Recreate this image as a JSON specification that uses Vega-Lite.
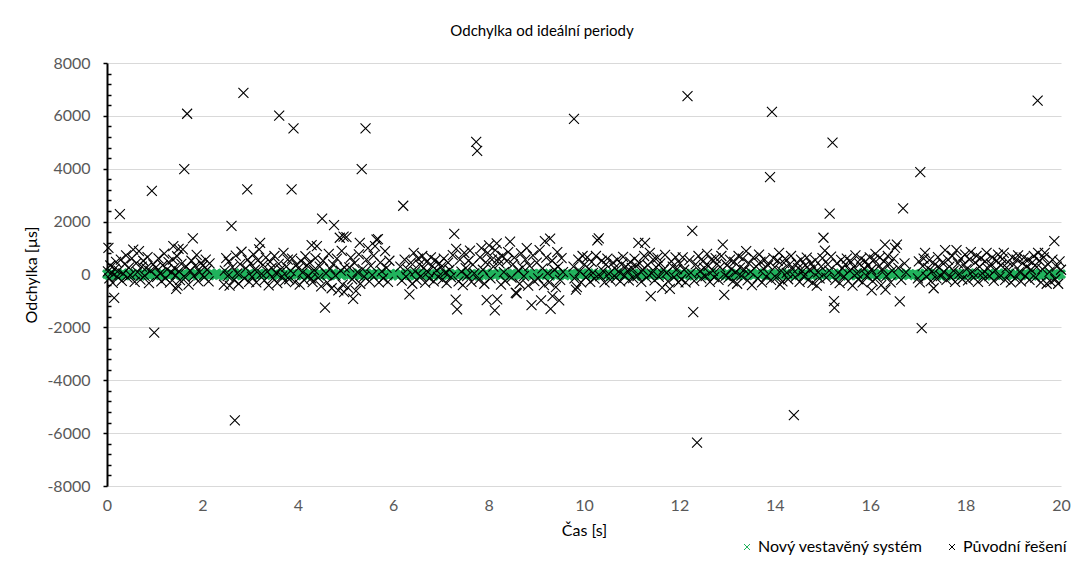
{
"$schema":"https://vega.github.io/schema/vega-lite/v6.json",
"width":954,"height":423,
"autosize":{"type":"none"},
"padding":{"left":107,"top":63,"right":23,"bottom":75},
"background":"white",
"config":{"font":"Lato","view":{"stroke":null}},
"title":{"text":"Odchylka od ideální periody","fontSize":15,"fontWeight":"normal","color":"#000000","anchor":"middle","dx":-42,"offset":16},
"datasets":{
"green":[
{"t":0,"v":12},{"t":0.05,"v":-35},{"t":0.1,"v":48},{"t":0.15,"v":-8},{"t":0.2,"v":27},{"t":0.25,"v":-52},{"t":0.3,"v":5},{"t":0.35,"v":39},{"t":0.4,"v":-21},{"t":0.45,"v":55},{"t":0.5,"v":-44},{"t":0.55,"v":16},{"t":0.6,"v":-3},{"t":0.65,"v":33},{"t":0.7,"v":-50},{"t":0.75,"v":22},{"t":0.8,"v":-14},{"t":0.85,"v":45},{"t":0.9,"v":-29},{"t":0.95,"v":8},
{"t":1,"v":-40},{"t":1.05,"v":30},{"t":1.1,"v":-6},{"t":1.15,"v":52},{"t":1.2,"v":-25},{"t":1.25,"v":14},{"t":1.3,"v":-48},{"t":1.35,"v":36},{"t":1.4,"v":2},{"t":1.45,"v":-18},{"t":1.5,"v":44},{"t":1.55,"v":-33},{"t":1.6,"v":20},{"t":1.65,"v":-55},{"t":1.7,"v":9},{"t":1.75,"v":41},{"t":1.8,"v":-12},{"t":1.85,"v":28},{"t":1.9,"v":-46},{"t":1.95,"v":17},
{"t":2,"v":50},{"t":2.05,"v":-22},{"t":2.1,"v":4},{"t":2.15,"v":-38},{"t":2.2,"v":35},{"t":2.25,"v":-10},{"t":2.3,"v":47},{"t":2.35,"v":-30},{"t":2.4,"v":24},{"t":2.45,"v":-53},{"t":2.5,"v":11},{"t":2.55,"v":38},{"t":2.6,"v":-16},{"t":2.65,"v":26},{"t":2.7,"v":-42},{"t":2.75,"v":6},{"t":2.8,"v":53},{"t":2.85,"v":-27},{"t":2.9,"v":19},{"t":2.95,"v":-7},
{"t":3,"v":43},{"t":3.05,"v":-49},{"t":3.1,"v":15},{"t":3.15,"v":-2},{"t":3.2,"v":37},{"t":3.25,"v":-34},{"t":3.3,"v":29},{"t":3.35,"v":-11},{"t":3.4,"v":51},{"t":3.45,"v":-24},{"t":3.5,"v":3},{"t":3.55,"v":46},{"t":3.6,"v":-39},{"t":3.65,"v":21},{"t":3.7,"v":-15},{"t":3.75,"v":34},{"t":3.8,"v":-51},{"t":3.85,"v":10},{"t":3.9,"v":40},{"t":3.95,"v":-19},
{"t":4,"v":-5},{"t":4.05,"v":31},{"t":4.1,"v":-45},{"t":4.15,"v":25},{"t":4.2,"v":-9},{"t":4.25,"v":54},{"t":4.3,"v":-36},{"t":4.35,"v":13},{"t":4.4,"v":-28},{"t":4.45,"v":48},{"t":4.5,"v":-1},{"t":4.55,"v":22},{"t":4.6,"v":-47},{"t":4.65,"v":37},{"t":4.7,"v":-13},{"t":4.75,"v":7},{"t":4.8,"v":-31},{"t":4.85,"v":42},{"t":4.9,"v":-20},{"t":4.95,"v":18},
{"t":5,"v":28},{"t":5.05,"v":-43},{"t":5.1,"v":1},{"t":5.15,"v":49},{"t":5.2,"v":-17},{"t":5.25,"v":32},{"t":5.3,"v":-54},{"t":5.35,"v":14},{"t":5.4,"v":-26},{"t":5.45,"v":39},{"t":5.5,"v":-8},{"t":5.55,"v":45},{"t":5.6,"v":-37},{"t":5.65,"v":23},{"t":5.7,"v":-4},{"t":5.75,"v":51},{"t":5.8,"v":-30},{"t":5.85,"v":10},{"t":5.9,"v":-41},{"t":5.95,"v":35},
{"t":6,"v":-12},{"t":6.05,"v":20},{"t":6.1,"v":-50},{"t":6.15,"v":44},{"t":6.2,"v":-23},{"t":6.25,"v":6},{"t":6.3,"v":38},{"t":6.35,"v":-35},{"t":6.4,"v":16},{"t":6.45,"v":-46},{"t":6.5,"v":53},{"t":6.55,"v":-2},{"t":6.6,"v":27},{"t":6.65,"v":-19},{"t":6.7,"v":41},{"t":6.75,"v":-33},{"t":6.8,"v":9},{"t":6.85,"v":-52},{"t":6.9,"v":30},{"t":6.95,"v":-15},
{"t":7,"v":47},{"t":7.05,"v":-6},{"t":7.1,"v":24},{"t":7.15,"v":-40},{"t":7.2,"v":12},{"t":7.25,"v":-27},{"t":7.3,"v":36},{"t":7.35,"v":-48},{"t":7.4,"v":19},{"t":7.45,"v":3},{"t":7.5,"v":-22},{"t":7.55,"v":50},{"t":7.6,"v":-11},{"t":7.65,"v":29},{"t":7.7,"v":-44},{"t":7.75,"v":15},{"t":7.8,"v":-55},{"t":7.85,"v":33},{"t":7.9,"v":-9},{"t":7.95,"v":42},
{"t":8,"v":-31},{"t":8.05,"v":8},{"t":8.1,"v":46},{"t":8.15,"v":-18},{"t":8.2,"v":25},{"t":8.25,"v":-38},{"t":8.3,"v":55},{"t":8.35,"v":-4},{"t":8.4,"v":31},{"t":8.45,"v":-49},{"t":8.5,"v":17},{"t":8.55,"v":-13},{"t":8.6,"v":40},{"t":8.65,"v":-26},{"t":8.7,"v":2},{"t":8.75,"v":52},{"t":8.8,"v":-35},{"t":8.85,"v":21},{"t":8.9,"v":-10},{"t":8.95,"v":37},
{"t":9,"v":-47},{"t":9.05,"v":26},{"t":9.1,"v":-3},{"t":9.15,"v":43},{"t":9.2,"v":-29},{"t":9.25,"v":11},{"t":9.3,"v":-51},{"t":9.35,"v":34},{"t":9.4,"v":-16},{"t":9.45,"v":48},{"t":9.5,"v":-20},{"t":9.55,"v":5},{"t":9.6,"v":-42},{"t":9.65,"v":39},{"t":9.7,"v":-7},{"t":9.75,"v":23},{"t":9.8,"v":-53},{"t":9.85,"v":30},{"t":9.9,"v":-1},{"t":9.95,"v":45},
{"t":10,"v":14},{"t":10.05,"v":-37},{"t":10.1,"v":50},{"t":10.15,"v":-24},{"t":10.2,"v":7},{"t":10.25,"v":-45},{"t":10.3,"v":32},{"t":10.35,"v":-12},{"t":10.4,"v":41},{"t":10.45,"v":-32},{"t":10.5,"v":18},{"t":10.55,"v":-56},{"t":10.6,"v":27},{"t":10.65,"v":-6},{"t":10.7,"v":54},{"t":10.75,"v":-21},{"t":10.8,"v":13},{"t":10.85,"v":-39},{"t":10.9,"v":36},{"t":10.95,"v":-17},
{"t":11,"v":4},{"t":11.05,"v":49},{"t":11.1,"v":-28},{"t":11.15,"v":22},{"t":11.2,"v":-50},{"t":11.25,"v":10},{"t":11.3,"v":-14},{"t":11.35,"v":44},{"t":11.4,"v":-34},{"t":11.45,"v":31},{"t":11.5,"v":-8},{"t":11.55,"v":53},{"t":11.6,"v":-25},{"t":11.65,"v":16},{"t":11.7,"v":-43},{"t":11.75,"v":38},{"t":11.8,"v":-2},{"t":11.85,"v":26},{"t":11.9,"v":-48},{"t":11.95,"v":20},
{"t":12,"v":-19},{"t":12.05,"v":47},{"t":12.1,"v":-36},{"t":12.15,"v":9},{"t":12.2,"v":-11},{"t":12.25,"v":35},{"t":12.3,"v":-52},{"t":12.35,"v":28},{"t":12.4,"v":-5},{"t":12.45,"v":42},{"t":12.5,"v":-30},{"t":12.55,"v":15},{"t":12.6,"v":-46},{"t":12.65,"v":51},{"t":12.7,"v":-22},{"t":12.75,"v":6},{"t":12.8,"v":37},{"t":12.85,"v":-40},{"t":12.9,"v":24},{"t":12.95,"v":-13},
{"t":13,"v":33},{"t":13.05,"v":-54},{"t":13.1,"v":19},{"t":13.15,"v":-3},{"t":13.2,"v":46},{"t":13.25,"v":-27},{"t":13.3,"v":12},{"t":13.35,"v":-49},{"t":13.4,"v":40},{"t":13.45,"v":-16},{"t":13.5,"v":29},{"t":13.55,"v":-38},{"t":13.6,"v":8},{"t":13.65,"v":55},{"t":13.7,"v":-24},{"t":13.75,"v":21},{"t":13.8,"v":-9},{"t":13.85,"v":43},{"t":13.9,"v":-33},{"t":13.95,"v":11},
{"t":14,"v":-44},{"t":14.05,"v":36},{"t":14.1,"v":-15},{"t":14.15,"v":52},{"t":14.2,"v":-20},{"t":14.25,"v":3},{"t":14.3,"v":-41},{"t":14.35,"v":30},{"t":14.4,"v":-6},{"t":14.45,"v":48},{"t":14.5,"v":-35},{"t":14.55,"v":17},{"t":14.6,"v":-53},{"t":14.65,"v":25},{"t":14.7,"v":-12},{"t":14.75,"v":39},{"t":14.8,"v":-28},{"t":14.85,"v":14},{"t":14.9,"v":-47},{"t":14.95,"v":34},
{"t":15,"v":-1},{"t":15.05,"v":50},{"t":15.1,"v":-23},{"t":15.15,"v":9},{"t":15.2,"v":-39},{"t":15.25,"v":43},{"t":15.3,"v":-18},{"t":15.35,"v":27},{"t":15.4,"v":-51},{"t":15.45,"v":20},{"t":15.5,"v":-4},{"t":15.55,"v":45},{"t":15.6,"v":-31},{"t":15.65,"v":13},{"t":15.7,"v":-45},{"t":15.75,"v":32},{"t":15.8,"v":-10},{"t":15.85,"v":54},{"t":15.9,"v":-26},{"t":15.95,"v":7},
{"t":16,"v":41},{"t":16.05,"v":-34},{"t":16.1,"v":22},{"t":16.15,"v":-14},{"t":16.2,"v":49},{"t":16.25,"v":-42},{"t":16.3,"v":16},{"t":16.35,"v":-7},{"t":16.4,"v":37},{"t":16.45,"v":-29},{"t":16.5,"v":5},{"t":16.55,"v":53},{"t":16.6,"v":-48},{"t":16.65,"v":24},{"t":16.7,"v":-17},{"t":16.75,"v":44},{"t":16.8,"v":-37},{"t":16.85,"v":11},{"t":16.9,"v":-2},{"t":16.95,"v":30},
{"t":17,"v":-50},{"t":17.05,"v":18},{"t":17.1,"v":-21},{"t":17.15,"v":46},{"t":17.2,"v":-32},{"t":17.25,"v":28},{"t":17.3,"v":-8},{"t":17.35,"v":51},{"t":17.4,"v":-43},{"t":17.45,"v":15},{"t":17.5,"v":-27},{"t":17.55,"v":38},{"t":17.6,"v":-55},{"t":17.65,"v":26},{"t":17.7,"v":-11},{"t":17.75,"v":47},{"t":17.8,"v":-36},{"t":17.85,"v":6},{"t":17.9,"v":-19},{"t":17.95,"v":40},
{"t":18,"v":21},{"t":18.05,"v":-46},{"t":18.1,"v":35},{"t":18.15,"v":-4},{"t":18.2,"v":52},{"t":18.25,"v":-30},{"t":18.3,"v":12},{"t":18.35,"v":-40},{"t":18.4,"v":29},{"t":18.45,"v":-15},{"t":18.5,"v":44},{"t":18.55,"v":-52},{"t":18.6,"v":8},{"t":18.65,"v":-25},{"t":18.7,"v":50},{"t":18.75,"v":-13},{"t":18.8,"v":33},{"t":18.85,"v":-38},{"t":18.9,"v":17},{"t":18.95,"v":-6},
{"t":19,"v":-28},{"t":19.05,"v":42},{"t":19.1,"v":-48},{"t":19.15,"v":23},{"t":19.2,"v":-1},{"t":19.25,"v":36},{"t":19.3,"v":-33},{"t":19.35,"v":19},{"t":19.4,"v":-54},{"t":19.45,"v":47},{"t":19.5,"v":-9},{"t":19.55,"v":31},{"t":19.6,"v":-41},{"t":19.65,"v":10},{"t":19.7,"v":-22},{"t":19.75,"v":55},{"t":19.8,"v":-16},{"t":19.85,"v":26},{"t":19.9,"v":-45},{"t":19.95,"v":2},
{"t":20,"v":13}
],
"black":[
{"t":0.03,"v":1010},{"t":0.15,"v":-880},{"t":0.27,"v":2280},{"t":0.94,"v":3160},{"t":0.99,"v":-2200},{"t":1.62,"v":3990},{"t":1.68,"v":6080},{"t":1.8,"v":1370},{"t":1.39,"v":1070},{"t":1.5,"v":970},{"t":1.45,"v":-540},{"t":1.48,"v":-420},{"t":2.61,"v":1840},{"t":2.68,"v":-5520},{"t":2.86,"v":6870},{"t":2.94,"v":3220},{"t":3.61,"v":6010},{"t":3.87,"v":3220},{"t":3.91,"v":5530},{"t":4.29,"v":1110},{"t":4.51,"v":2110},{"t":4.57,"v":-1250},{"t":4.76,"v":1870},{"t":4.88,"v":1390},{"t":4.96,"v":1430},{"t":4.97,"v":-670},{"t":5.16,"v":-920},{"t":5.3,"v":1200},{"t":5.34,"v":3990},{"t":5.42,"v":5530},{"t":5.68,"v":1340},{"t":6.21,"v":2600},{"t":7.28,"v":1540},{"t":7.32,"v":970},{"t":7.31,"v":-950},{"t":7.34,"v":-1320},{"t":7.74,"v":5020},{"t":7.76,"v":4680},{"t":7.96,"v":-970},{"t":8.13,"v":-1360},{"t":8.18,"v":-945},{"t":8.59,"v":-710},{"t":8.9,"v":-1160},{"t":9.1,"v":-980},{"t":9.3,"v":-1300},{"t":9.34,"v":-820},{"t":9.48,"v":-980},{"t":9.79,"v":5890},{"t":9.83,"v":-570},{"t":10.31,"v":1370},{"t":11.4,"v":-820},{"t":12.17,"v":6750},{"t":12.27,"v":1650},{"t":12.29,"v":-1420},{"t":12.37,"v":-6360},{"t":12.94,"v":-770},{"t":12.91,"v":1130},{"t":13.94,"v":6150},{"t":13.9,"v":3680},{"t":14.4,"v":-5320},{"t":14.11,"v":-380},{"t":14.88,"v":-420},{"t":15.02,"v":1390},{"t":15.15,"v":2300},{"t":15.21,"v":4990},{"t":15.24,"v":-1010},{"t":15.25,"v":-1260},{"t":16.03,"v":-600},{"t":16.32,"v":-570},{"t":16.62,"v":-1020},{"t":16.69,"v":2500},{"t":17.05,"v":3870},{"t":17.08,"v":-2030},{"t":17.33,"v":-520},{"t":19.51,"v":6580},{"t":19.86,"v":1260},
{"t":0.02,"v":120},{"t":0.05,"v":-150},{"t":0.07,"v":340},{"t":0.1,"v":60},{"t":0.12,"v":-320},{"t":0.16,"v":210},{"t":0.19,"v":480},{"t":0.21,"v":-80},{"t":0.24,"v":150},{"t":0.29,"v":560},{"t":0.31,"v":-240},{"t":0.34,"v":30},{"t":0.37,"v":390},{"t":0.4,"v":720},{"t":0.43,"v":-120},{"t":0.46,"v":260},{"t":0.49,"v":-20},{"t":0.52,"v":610},{"t":0.55,"v":945},{"t":0.58,"v":-280},{"t":0.61,"v":420},{"t":0.64,"v":90},{"t":0.67,"v":880},{"t":0.7,"v":-190},{"t":0.73,"v":300},{"t":0.76,"v":520},{"t":0.79,"v":-50},{"t":0.82,"v":240},{"t":0.85,"v":660},{"t":0.88,"v":-330},{"t":0.91,"v":140},{"t":0.97,"v":380},
{"t":1.02,"v":260},{"t":1.05,"v":-90},{"t":1.08,"v":610},{"t":1.11,"v":40},{"t":1.14,"v":-260},{"t":1.17,"v":350},{"t":1.2,"v":790},{"t":1.23,"v":-140},{"t":1.26,"v":190},{"t":1.29,"v":470},{"t":1.32,"v":-310},{"t":1.35,"v":80},{"t":1.38,"v":560},{"t":1.41,"v":240},{"t":1.44,"v":-30},{"t":1.47,"v":690},{"t":1.51,"v":120},{"t":1.53,"v":-210},{"t":1.56,"v":400},{"t":1.59,"v":950},{"t":1.64,"v":-120},{"t":1.66,"v":300},{"t":1.71,"v":-380},{"t":1.74,"v":150},{"t":1.77,"v":520},{"t":1.82,"v":-60},{"t":1.85,"v":330},{"t":1.88,"v":740},{"t":1.91,"v":-250},{"t":1.94,"v":90},{"t":1.97,"v":440},
{"t":2.01,"v":340},{"t":2.04,"v":-110},{"t":2.07,"v":560},{"t":2.1,"v":180},{"t":2.13,"v":-260},{"t":2.15,"v":420},{"t":2.45,"v":-380},{"t":2.47,"v":150},{"t":2.5,"v":620},{"t":2.53,"v":-60},{"t":2.55,"v":490},{"t":2.57,"v":-420},{"t":2.63,"v":280},{"t":2.66,"v":-200},{"t":2.7,"v":710},{"t":2.73,"v":40},{"t":2.76,"v":-350},{"t":2.79,"v":390},{"t":2.82,"v":860},{"t":2.88,"v":-150},{"t":2.91,"v":230},{"t":2.95,"v":560},{"t":2.98,"v":-280},
{"t":3.01,"v":410},{"t":3.04,"v":-90},{"t":3.07,"v":760},{"t":3.1,"v":180},{"t":3.13,"v":-300},{"t":3.16,"v":530},{"t":3.19,"v":950},{"t":3.21,"v":1200},{"t":3.24,"v":20},{"t":3.27,"v":360},{"t":3.3,"v":-220},{"t":3.33,"v":640},{"t":3.36,"v":110},{"t":3.39,"v":-410},{"t":3.42,"v":480},{"t":3.45,"v":250},{"t":3.48,"v":-140},{"t":3.51,"v":700},{"t":3.54,"v":60},{"t":3.57,"v":-330},{"t":3.6,"v":400},{"t":3.64,"v":190},{"t":3.67,"v":-70},{"t":3.7,"v":820},{"t":3.73,"v":-240},{"t":3.76,"v":300},{"t":3.79,"v":560},{"t":3.82,"v":-180},{"t":3.85,"v":140},{"t":3.88,"v":600},{"t":3.94,"v":-290},{"t":3.97,"v":370},
{"t":4.01,"v":230},{"t":4.04,"v":-380},{"t":4.07,"v":510},{"t":4.1,"v":80},{"t":4.13,"v":-200},{"t":4.16,"v":690},{"t":4.19,"v":350},{"t":4.22,"v":-60},{"t":4.25,"v":440},{"t":4.28,"v":-150},{"t":4.31,"v":-290},{"t":4.34,"v":170},{"t":4.37,"v":620},{"t":4.4,"v":1070},{"t":4.43,"v":-130},{"t":4.46,"v":300},{"t":4.49,"v":-450},{"t":4.53,"v":520},{"t":4.59,"v":40},{"t":4.62,"v":-310},{"t":4.65,"v":780},{"t":4.68,"v":210},{"t":4.71,"v":-520},{"t":4.74,"v":380},{"t":4.79,"v":-40},{"t":4.82,"v":600},{"t":4.85,"v":-600},{"t":4.9,"v":150},{"t":4.92,"v":890},{"t":4.94,"v":-380},{"t":4.98,"v":260},
{"t":5.02,"v":1410},{"t":5.05,"v":-500},{"t":5.08,"v":270},{"t":5.11,"v":640},{"t":5.14,"v":-180},{"t":5.19,"v":430},{"t":5.22,"v":-620},{"t":5.25,"v":90},{"t":5.28,"v":760},{"t":5.31,"v":-350},{"t":5.36,"v":200},{"t":5.39,"v":-80},{"t":5.44,"v":560},{"t":5.47,"v":1000},{"t":5.5,"v":-260},{"t":5.53,"v":330},{"t":5.56,"v":-20},{"t":5.59,"v":710},{"t":5.62,"v":1070},{"t":5.65,"v":1320},{"t":5.7,"v":-300},{"t":5.73,"v":450},{"t":5.76,"v":120},{"t":5.79,"v":-150},{"t":5.83,"v":880},{"t":5.86,"v":250},{"t":5.89,"v":-280},{"t":5.92,"v":520},
{"t":6.15,"v":300},{"t":6.18,"v":-230},{"t":6.24,"v":560},{"t":6.27,"v":-80},{"t":6.3,"v":190},{"t":6.34,"v":-750},{"t":6.37,"v":450},{"t":6.4,"v":-350},{"t":6.43,"v":820},{"t":6.46,"v":120},{"t":6.49,"v":-200},{"t":6.52,"v":600},{"t":6.55,"v":380},{"t":6.58,"v":-60},{"t":6.61,"v":700},{"t":6.64,"v":250},{"t":6.67,"v":-310},{"t":6.7,"v":480},{"t":6.73,"v":90},{"t":6.76,"v":-150},{"t":6.79,"v":650},{"t":6.82,"v":330},{"t":6.85,"v":-260},{"t":6.88,"v":540},{"t":6.91,"v":160},{"t":6.94,"v":-90},{"t":6.97,"v":420},
{"t":7,"v":280},{"t":7.03,"v":-190},{"t":7.06,"v":600},{"t":7.09,"v":60},{"t":7.12,"v":-330},{"t":7.15,"v":450},{"t":7.18,"v":180},{"t":7.21,"v":-100},{"t":7.25,"v":730},{"t":7.37,"v":-260},{"t":7.4,"v":560},{"t":7.43,"v":110},{"t":7.46,"v":-400},{"t":7.49,"v":820},{"t":7.52,"v":240},{"t":7.55,"v":-60},{"t":7.58,"v":520},{"t":7.61,"v":900},{"t":7.64,"v":-280},{"t":7.67,"v":370},{"t":7.7,"v":40},{"t":7.79,"v":-200},{"t":7.82,"v":650},{"t":7.85,"v":1000},{"t":7.88,"v":180},{"t":7.91,"v":-350},{"t":7.94,"v":460},{"t":7.98,"v":820},
{"t":8.01,"v":1100},{"t":8.04,"v":-150},{"t":8.07,"v":560},{"t":8.1,"v":300},{"t":8.14,"v":920},{"t":8.17,"v":1180},{"t":8.2,"v":600},{"t":8.23,"v":420},{"t":8.26,"v":-380},{"t":8.29,"v":700},{"t":8.32,"v":90},{"t":8.35,"v":-240},{"t":8.38,"v":510},{"t":8.41,"v":850},{"t":8.45,"v":1240},{"t":8.48,"v":-120},{"t":8.51,"v":380},{"t":8.54,"v":640},{"t":8.57,"v":-690},{"t":8.62,"v":150},{"t":8.65,"v":-350},{"t":8.68,"v":800},{"t":8.71,"v":270},{"t":8.74,"v":-60},{"t":8.77,"v":560},{"t":8.8,"v":1000},{"t":8.83,"v":-420},{"t":8.86,"v":330},{"t":8.93,"v":720},{"t":8.96,"v":-250},
{"t":9.01,"v":450},{"t":9.04,"v":-150},{"t":9.07,"v":920},{"t":9.13,"v":230},{"t":9.16,"v":-400},{"t":9.18,"v":1260},{"t":9.21,"v":640},{"t":9.24,"v":40},{"t":9.27,"v":-300},{"t":9.29,"v":1360},{"t":9.33,"v":520},{"t":9.38,"v":180},{"t":9.41,"v":-480},{"t":9.44,"v":850},{"t":9.46,"v":300},{"t":9.5,"v":-200},{"t":9.53,"v":620},{"t":9.56,"v":90},{"t":9.78,"v":300},{"t":9.8,"v":-150},{"t":9.85,"v":-480},{"t":9.88,"v":560},{"t":9.91,"v":120},{"t":9.94,"v":-300},{"t":9.97,"v":700},
{"t":10.01,"v":380},{"t":10.04,"v":-100},{"t":10.07,"v":650},{"t":10.1,"v":200},{"t":10.13,"v":-280},{"t":10.16,"v":480},{"t":10.19,"v":60},{"t":10.22,"v":-160},{"t":10.25,"v":700},{"t":10.28,"v":1290},{"t":10.34,"v":-60},{"t":10.37,"v":520},{"t":10.4,"v":140},{"t":10.43,"v":-300},{"t":10.46,"v":380},{"t":10.49,"v":600},{"t":10.52,"v":20},{"t":10.55,"v":-200},{"t":10.61,"v":450},{"t":10.64,"v":240},{"t":10.67,"v":-120},{"t":10.7,"v":560},{"t":10.73,"v":110},{"t":10.76,"v":-260},{"t":10.79,"v":380},{"t":10.82,"v":670},{"t":10.85,"v":-40},{"t":10.88,"v":300},{"t":10.91,"v":150},{"t":10.94,"v":-220},{"t":10.97,"v":480},
{"t":11,"v":250},{"t":11.03,"v":-140},{"t":11.06,"v":600},{"t":11.09,"v":330},{"t":11.12,"v":-60},{"t":11.14,"v":1200},{"t":11.17,"v":420},{"t":11.2,"v":-280},{"t":11.23,"v":180},{"t":11.26,"v":700},{"t":11.28,"v":1200},{"t":11.31,"v":-120},{"t":11.34,"v":350},{"t":11.38,"v":820},{"t":11.42,"v":40},{"t":11.45,"v":560},{"t":11.48,"v":-220},{"t":11.51,"v":280},{"t":11.54,"v":640},{"t":11.57,"v":-90},{"t":11.6,"v":420},{"t":11.64,"v":-500},{"t":11.67,"v":180},{"t":11.7,"v":740},{"t":11.73,"v":60},{"t":11.76,"v":-260},{"t":11.8,"v":-540},{"t":11.83,"v":500},{"t":11.86,"v":300},{"t":11.89,"v":-100},{"t":11.92,"v":650},{"t":11.95,"v":200},{"t":11.98,"v":-300},
{"t":12.01,"v":420},{"t":12.04,"v":-180},{"t":12.07,"v":650},{"t":12.1,"v":180},{"t":12.13,"v":-300},{"t":12.21,"v":540},{"t":12.24,"v":60},{"t":12.31,"v":-240},{"t":12.34,"v":380},{"t":12.4,"v":700},{"t":12.43,"v":120},{"t":12.46,"v":-150},{"t":12.49,"v":500},{"t":12.52,"v":250},{"t":12.55,"v":-60},{"t":12.58,"v":780},{"t":12.61,"v":330},{"t":12.64,"v":-280},{"t":12.67,"v":560},{"t":12.7,"v":140},{"t":12.73,"v":-100},{"t":12.76,"v":620},{"t":12.79,"v":400},{"t":12.82,"v":-200},{"t":12.85,"v":280},{"t":12.88,"v":700},{"t":12.97,"v":-50},
{"t":13,"v":350},{"t":13.03,"v":-120},{"t":13.06,"v":560},{"t":13.09,"v":200},{"t":13.12,"v":-260},{"t":13.15,"v":480},{"t":13.18,"v":80},{"t":13.21,"v":-350},{"t":13.24,"v":700},{"t":13.27,"v":260},{"t":13.3,"v":-50},{"t":13.33,"v":600},{"t":13.36,"v":180},{"t":13.4,"v":880},{"t":13.43,"v":-220},{"t":13.46,"v":420},{"t":13.49,"v":100},{"t":13.52,"v":-400},{"t":13.55,"v":640},{"t":13.61,"v":300},{"t":13.64,"v":-150},{"t":13.67,"v":750},{"t":13.7,"v":480},{"t":13.73,"v":-300},{"t":13.76,"v":220},{"t":13.79,"v":560},{"t":13.82,"v":-80},{"t":13.86,"v":350},{"t":13.92,"v":-200},{"t":13.97,"v":620},
{"t":14,"v":280},{"t":14.03,"v":-120},{"t":14.06,"v":520},{"t":14.09,"v":820},{"t":14.13,"v":150},{"t":14.16,"v":-260},{"t":14.19,"v":440},{"t":14.22,"v":600},{"t":14.25,"v":60},{"t":14.28,"v":-180},{"t":14.31,"v":380},{"t":14.34,"v":700},{"t":14.37,"v":200},{"t":14.43,"v":-100},{"t":14.46,"v":450},{"t":14.49,"v":240},{"t":14.52,"v":-280},{"t":14.55,"v":560},{"t":14.58,"v":120},{"t":14.61,"v":-60},{"t":14.64,"v":350},{"t":14.67,"v":640},{"t":14.7,"v":-200},{"t":14.73,"v":180},{"t":14.76,"v":420},{"t":14.79,"v":-320},{"t":14.82,"v":260},{"t":14.85,"v":540},{"t":14.91,"v":80},{"t":14.94,"v":-150},{"t":14.97,"v":300},
{"t":15,"v":620},{"t":15.05,"v":900},{"t":15.08,"v":-120},{"t":15.11,"v":380},{"t":15.14,"v":150},{"t":15.18,"v":680},{"t":15.27,"v":-200},{"t":15.3,"v":420},{"t":15.33,"v":60},{"t":15.36,"v":-330},{"t":15.39,"v":550},{"t":15.42,"v":240},{"t":15.45,"v":-80},{"t":15.48,"v":380},{"t":15.51,"v":600},{"t":15.54,"v":-250},{"t":15.57,"v":150},{"t":15.6,"v":480},{"t":15.63,"v":-420},{"t":15.66,"v":280},{"t":15.69,"v":720},{"t":15.72,"v":40},{"t":15.75,"v":-180},{"t":15.78,"v":400},{"t":15.81,"v":600},{"t":15.84,"v":-300},{"t":15.87,"v":220},{"t":15.9,"v":500},{"t":15.93,"v":-60},{"t":15.96,"v":340},{"t":15.99,"v":650},
{"t":16.02,"v":180},{"t":16.05,"v":-250},{"t":16.08,"v":560},{"t":16.11,"v":780},{"t":16.14,"v":-120},{"t":16.17,"v":300},{"t":16.2,"v":640},{"t":16.23,"v":-400},{"t":16.26,"v":200},{"t":16.29,"v":500},{"t":16.31,"v":1130},{"t":16.34,"v":-60},{"t":16.37,"v":700},{"t":16.4,"v":380},{"t":16.43,"v":-300},{"t":16.46,"v":150},{"t":16.49,"v":600},{"t":16.52,"v":1010},{"t":16.56,"v":1130},{"t":16.59,"v":250},{"t":16.65,"v":-200},{"t":16.72,"v":420},{"t":16.75,"v":80},{"t":17,"v":-150},
{"t":17.02,"v":500},{"t":17.04,"v":-300},{"t":17.1,"v":320},{"t":17.12,"v":600},{"t":17.15,"v":820},{"t":17.18,"v":-80},{"t":17.21,"v":240},{"t":17.24,"v":540},{"t":17.27,"v":-250},{"t":17.3,"v":120},{"t":17.36,"v":380},{"t":17.39,"v":-150},{"t":17.42,"v":660},{"t":17.45,"v":260},{"t":17.48,"v":-60},{"t":17.51,"v":450},{"t":17.54,"v":100},{"t":17.57,"v":920},{"t":17.6,"v":-200},{"t":17.63,"v":560},{"t":17.66,"v":300},{"t":17.69,"v":-100},{"t":17.72,"v":700},{"t":17.75,"v":150},{"t":17.78,"v":-280},{"t":17.81,"v":920},{"t":17.84,"v":420},{"t":17.87,"v":20},{"t":17.9,"v":600},{"t":17.93,"v":-180},{"t":17.96,"v":380},{"t":17.99,"v":750},
{"t":18.02,"v":200},{"t":18.05,"v":-220},{"t":18.08,"v":560},{"t":18.11,"v":850},{"t":18.14,"v":100},{"t":18.17,"v":-120},{"t":18.2,"v":450},{"t":18.23,"v":700},{"t":18.26,"v":-280},{"t":18.29,"v":300},{"t":18.32,"v":620},{"t":18.35,"v":40},{"t":18.38,"v":-160},{"t":18.41,"v":500},{"t":18.44,"v":820},{"t":18.47,"v":220},{"t":18.5,"v":-60},{"t":18.53,"v":400},{"t":18.56,"v":650},{"t":18.59,"v":-240},{"t":18.62,"v":160},{"t":18.65,"v":520},{"t":18.68,"v":750},{"t":18.71,"v":-100},{"t":18.74,"v":350},{"t":18.77,"v":580},{"t":18.8,"v":820},{"t":18.83,"v":-200},{"t":18.86,"v":260},{"t":18.89,"v":480},{"t":18.92,"v":40},{"t":18.95,"v":-300},{"t":18.98,"v":650},
{"t":19.01,"v":380},{"t":19.04,"v":-150},{"t":19.07,"v":560},{"t":19.1,"v":720},{"t":19.13,"v":100},{"t":19.16,"v":-260},{"t":19.19,"v":420},{"t":19.22,"v":640},{"t":19.25,"v":-60},{"t":19.28,"v":300},{"t":19.31,"v":550},{"t":19.34,"v":-200},{"t":19.37,"v":180},{"t":19.4,"v":460},{"t":19.43,"v":700},{"t":19.46,"v":-120},{"t":19.49,"v":280},{"t":19.52,"v":820},{"t":19.55,"v":520},{"t":19.58,"v":-300},{"t":19.61,"v":200},{"t":19.64,"v":650},{"t":19.66,"v":820},{"t":19.7,"v":-350},{"t":19.73,"v":380},{"t":19.76,"v":100},{"t":19.79,"v":-280},{"t":19.82,"v":560},{"t":19.88,"v":-180},{"t":19.91,"v":300},{"t":19.94,"v":-350},{"t":19.97,"v":500},{"t":20,"v":180}
]},
"encoding":{
  "x":{"field":"t","type":"quantitative","scale":{"domain":[0,20],"nice":false,"zero":false},
   "axis":{"title":"Čas [s]","values":[0,2,4,6,8,10,12,14,16,18,20],"grid":false,"domain":false,"ticks":false,"labelColor":"#595959","labelFontSize":16,"labelPadding":11,"labelFlush":false,"titleFontSize":16,"titleFontWeight":"normal","titleColor":"#000000","titlePadding":9}},
  "y":{"field":"v","type":"quantitative","scale":{"domain":[-8000,8000],"nice":false},
   "axis":{"title":"Odchylka [µs]","values":[-8000,-7600,-7200,-6800,-6400,-6000,-5600,-5200,-4800,-4400,-4000,-3600,-3200,-2800,-2400,-2000,-1600,-1200,-800,-400,0,400,800,1200,1600,2000,2400,2800,3200,3600,4000,4400,4800,5200,5600,6000,6400,6800,7200,7600,8000],
    "labelExpr":"datum.value % 2000 === 0 ? '' + datum.value : ''","labelOverlap":false,"labelFlush":false,
    "gridColor":"#d9d9d9","gridWidth":1,"gridOpacity":{"condition":{"test":"datum.value % 2000 === 0","value":1},"value":0},
    "tickSize":{"condition":{"test":"datum.value % 2000 === 0","value":4},"value":-4},
    "tickColor":"#000000","tickWidth":1.5,"domainColor":"#000000","domainWidth":2,
    "labelColor":"#595959","labelFontSize":16,"labelPadding":13,"titleFontSize":16,"titleFontWeight":"normal","titleColor":"#000000","titlePadding":7}}
},
"layer":[
{"data":{"name":"green"},
 "mark":{"type":"point","shape":"M-1,-1L1,1M-1,1L1,-1","filled":false,"size":64,"strokeWidth":3,"opacity":1},
 "encoding":{
  "color":{"datum":"Nový vestavěný systém","type":"nominal","scale":{"domain":["Nový vestavěný systém","Původní řešení"],"range":["#21b35d","#000000"]},
   "legend":{"title":null,"orient":"none","legendX":632,"legendY":476,"direction":"horizontal","symbolType":"M-1,-1L1,1M-1,1L1,-1","symbolSize":36,"symbolStrokeWidth":1,"labelFontSize":16,"labelColor":"#000000","labelLimit":400,"columnPadding":20,"labelOffset":3,"padding":0}}
 }},
{"data":{"name":"black"},
 "mark":{"type":"point","shape":"M-1,-1L1,1M-1,1L1,-1","filled":false,"size":100,"strokeWidth":1.1,"opacity":1},
 "encoding":{
  "color":{"datum":"Původní řešení","type":"nominal"}
 }}
]
}
